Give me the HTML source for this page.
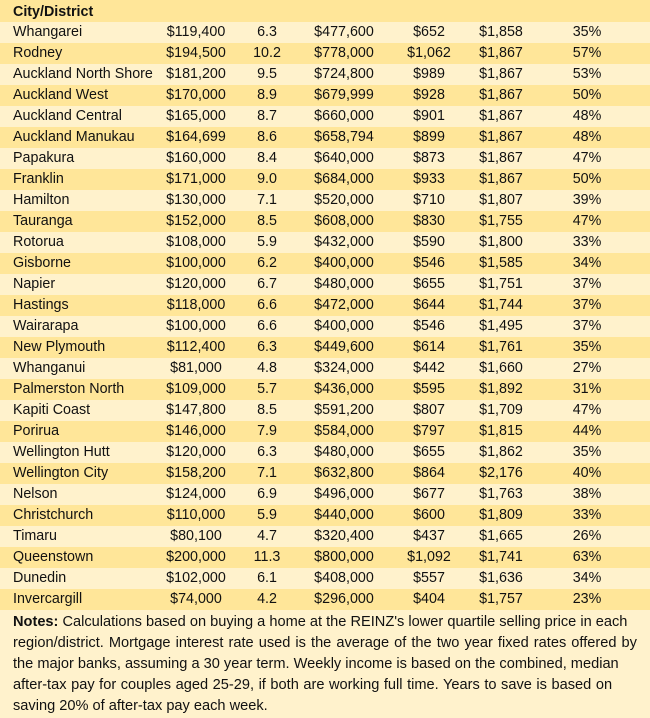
<!DOCTYPE html>
<html><head><meta charset="utf-8"><style>
*{margin:0;padding:0;box-sizing:border-box}
body{width:650px;height:718px;overflow:hidden;background:#FFF2CC;font-family:"Liberation Sans",Arial,sans-serif;font-size:14.3px;color:#111}
.r{position:relative;height:21px;line-height:21px;width:650px;white-space:nowrap}
.d{background:#FFE699}
.l{background:#FFF2CC}
.h{height:22px;line-height:24px;background:#FFE699;font-weight:bold}
.r span{position:absolute;top:0;text-align:center;width:100px}
.r span.n{left:13px;text-align:left;width:auto}
.c2{left:146px}.c3{left:217px}.c4{left:294px}.c5{left:379px}.c6{left:451px}.c7{left:537px}
.notes{padding:2px 0 0 13px;line-height:21px;white-space:nowrap;background:#FFF2CC;height:108px;font-size:14.6px}
.notes div{height:21px}
</style></head><body>
<div class="r h"><span class="n">City/District</span></div>
<div class="r l"><span class="n">Whangarei</span><span class="c2">$119,400</span><span class="c3">6.3</span><span class="c4">$477,600</span><span class="c5">$652</span><span class="c6">$1,858</span><span class="c7">35%</span></div>
<div class="r d"><span class="n">Rodney</span><span class="c2">$194,500</span><span class="c3">10.2</span><span class="c4">$778,000</span><span class="c5">$1,062</span><span class="c6">$1,867</span><span class="c7">57%</span></div>
<div class="r l"><span class="n">Auckland North Shore</span><span class="c2">$181,200</span><span class="c3">9.5</span><span class="c4">$724,800</span><span class="c5">$989</span><span class="c6">$1,867</span><span class="c7">53%</span></div>
<div class="r d"><span class="n">Auckland West</span><span class="c2">$170,000</span><span class="c3">8.9</span><span class="c4">$679,999</span><span class="c5">$928</span><span class="c6">$1,867</span><span class="c7">50%</span></div>
<div class="r l"><span class="n">Auckland Central</span><span class="c2">$165,000</span><span class="c3">8.7</span><span class="c4">$660,000</span><span class="c5">$901</span><span class="c6">$1,867</span><span class="c7">48%</span></div>
<div class="r d"><span class="n">Auckland Manukau</span><span class="c2">$164,699</span><span class="c3">8.6</span><span class="c4">$658,794</span><span class="c5">$899</span><span class="c6">$1,867</span><span class="c7">48%</span></div>
<div class="r l"><span class="n">Papakura</span><span class="c2">$160,000</span><span class="c3">8.4</span><span class="c4">$640,000</span><span class="c5">$873</span><span class="c6">$1,867</span><span class="c7">47%</span></div>
<div class="r d"><span class="n">Franklin</span><span class="c2">$171,000</span><span class="c3">9.0</span><span class="c4">$684,000</span><span class="c5">$933</span><span class="c6">$1,867</span><span class="c7">50%</span></div>
<div class="r l"><span class="n">Hamilton</span><span class="c2">$130,000</span><span class="c3">7.1</span><span class="c4">$520,000</span><span class="c5">$710</span><span class="c6">$1,807</span><span class="c7">39%</span></div>
<div class="r d"><span class="n">Tauranga</span><span class="c2">$152,000</span><span class="c3">8.5</span><span class="c4">$608,000</span><span class="c5">$830</span><span class="c6">$1,755</span><span class="c7">47%</span></div>
<div class="r l"><span class="n">Rotorua</span><span class="c2">$108,000</span><span class="c3">5.9</span><span class="c4">$432,000</span><span class="c5">$590</span><span class="c6">$1,800</span><span class="c7">33%</span></div>
<div class="r d"><span class="n">Gisborne</span><span class="c2">$100,000</span><span class="c3">6.2</span><span class="c4">$400,000</span><span class="c5">$546</span><span class="c6">$1,585</span><span class="c7">34%</span></div>
<div class="r l"><span class="n">Napier</span><span class="c2">$120,000</span><span class="c3">6.7</span><span class="c4">$480,000</span><span class="c5">$655</span><span class="c6">$1,751</span><span class="c7">37%</span></div>
<div class="r d"><span class="n">Hastings</span><span class="c2">$118,000</span><span class="c3">6.6</span><span class="c4">$472,000</span><span class="c5">$644</span><span class="c6">$1,744</span><span class="c7">37%</span></div>
<div class="r l"><span class="n">Wairarapa</span><span class="c2">$100,000</span><span class="c3">6.6</span><span class="c4">$400,000</span><span class="c5">$546</span><span class="c6">$1,495</span><span class="c7">37%</span></div>
<div class="r d"><span class="n">New Plymouth</span><span class="c2">$112,400</span><span class="c3">6.3</span><span class="c4">$449,600</span><span class="c5">$614</span><span class="c6">$1,761</span><span class="c7">35%</span></div>
<div class="r l"><span class="n">Whanganui</span><span class="c2">$81,000</span><span class="c3">4.8</span><span class="c4">$324,000</span><span class="c5">$442</span><span class="c6">$1,660</span><span class="c7">27%</span></div>
<div class="r d"><span class="n">Palmerston North</span><span class="c2">$109,000</span><span class="c3">5.7</span><span class="c4">$436,000</span><span class="c5">$595</span><span class="c6">$1,892</span><span class="c7">31%</span></div>
<div class="r l"><span class="n">Kapiti Coast</span><span class="c2">$147,800</span><span class="c3">8.5</span><span class="c4">$591,200</span><span class="c5">$807</span><span class="c6">$1,709</span><span class="c7">47%</span></div>
<div class="r d"><span class="n">Porirua</span><span class="c2">$146,000</span><span class="c3">7.9</span><span class="c4">$584,000</span><span class="c5">$797</span><span class="c6">$1,815</span><span class="c7">44%</span></div>
<div class="r l"><span class="n">Wellington Hutt</span><span class="c2">$120,000</span><span class="c3">6.3</span><span class="c4">$480,000</span><span class="c5">$655</span><span class="c6">$1,862</span><span class="c7">35%</span></div>
<div class="r d"><span class="n">Wellington City</span><span class="c2">$158,200</span><span class="c3">7.1</span><span class="c4">$632,800</span><span class="c5">$864</span><span class="c6">$2,176</span><span class="c7">40%</span></div>
<div class="r l"><span class="n">Nelson</span><span class="c2">$124,000</span><span class="c3">6.9</span><span class="c4">$496,000</span><span class="c5">$677</span><span class="c6">$1,763</span><span class="c7">38%</span></div>
<div class="r d"><span class="n">Christchurch</span><span class="c2">$110,000</span><span class="c3">5.9</span><span class="c4">$440,000</span><span class="c5">$600</span><span class="c6">$1,809</span><span class="c7">33%</span></div>
<div class="r l"><span class="n">Timaru</span><span class="c2">$80,100</span><span class="c3">4.7</span><span class="c4">$320,400</span><span class="c5">$437</span><span class="c6">$1,665</span><span class="c7">26%</span></div>
<div class="r d"><span class="n">Queenstown</span><span class="c2">$200,000</span><span class="c3">11.3</span><span class="c4">$800,000</span><span class="c5">$1,092</span><span class="c6">$1,741</span><span class="c7">63%</span></div>
<div class="r l"><span class="n">Dunedin</span><span class="c2">$102,000</span><span class="c3">6.1</span><span class="c4">$408,000</span><span class="c5">$557</span><span class="c6">$1,636</span><span class="c7">34%</span></div>
<div class="r d"><span class="n">Invercargill</span><span class="c2">$74,000</span><span class="c3">4.2</span><span class="c4">$296,000</span><span class="c5">$404</span><span class="c6">$1,757</span><span class="c7">23%</span></div>
<div class="notes"><div><b>Notes:</b> Calculations based on buying a home at the REINZ's lower quartile selling price in each</div><div style="word-spacing:1px">region/district. Mortgage interest rate used is the average of the two year fixed rates offered by</div><div>the major banks, assuming a 30 year term. Weekly income is based on the combined, median</div><div style="word-spacing:0.5px">after-tax pay for couples aged 25-29, if both are working full time. Years to save is based on</div><div>saving 20% of after-tax pay each week.</div></div>
</body></html>
